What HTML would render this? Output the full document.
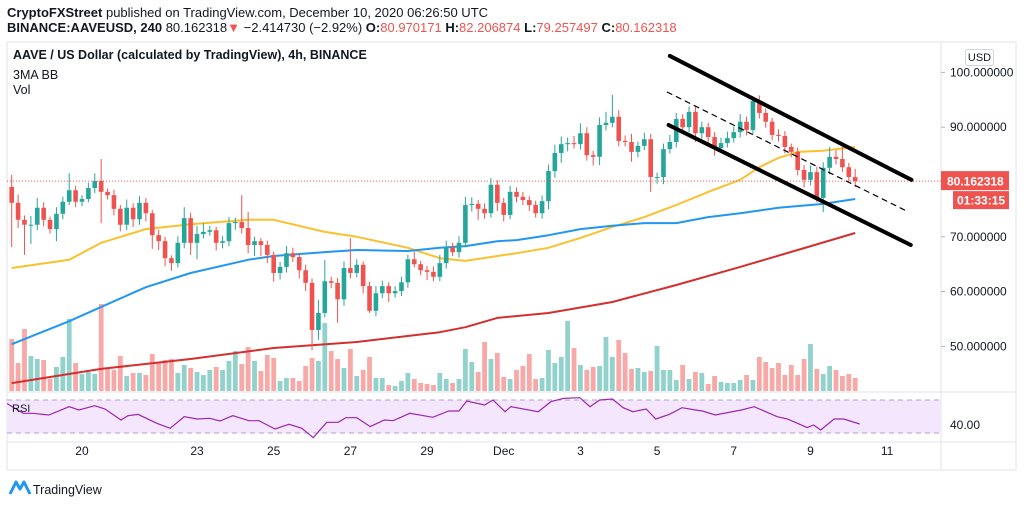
<!DOCTYPE html>
<html><head><meta charset="utf-8">
<style>
html,body{margin:0;padding:0;background:#fff;width:1024px;height:505px;overflow:hidden}
svg{display:block;font-family:"Liberation Sans",sans-serif}
</style></head>
<body>
<svg id="c" width="1024" height="505" viewBox="0 0 1024 505" xmlns="http://www.w3.org/2000/svg">
  <defs><clipPath id="pane"><rect x="7" y="42" width="934" height="400"/></clipPath></defs>
  <text x="7" y="17" font-size="13" fill="#131722"><tspan font-weight="bold">CryptoFXStreet</tspan> published on TradingView.com, December 10, 2020 06:26:50 UTC</text>
  <text x="7" y="32" font-size="13" fill="#131722"><tspan font-weight="bold">BINANCE:AAVEUSD, 240</tspan> 80.162318<tspan fill="#ef5350">▼</tspan> −2.414730 (−2.92%) <tspan font-weight="bold">O:</tspan><tspan fill="#ef5350">80.970171</tspan> <tspan font-weight="bold">H:</tspan><tspan fill="#ef5350">82.206874</tspan> <tspan font-weight="bold">L:</tspan><tspan fill="#ef5350">79.257497</tspan> <tspan font-weight="bold">C:</tspan><tspan fill="#ef5350">80.162318</tspan></text>
  <rect x="7" y="42" width="1009" height="428" fill="none" stroke="#e0e3eb"/>
  <line x1="941" y1="42" x2="941" y2="470" stroke="#e0e3eb"/>
  <line x1="7" y1="392" x2="1016" y2="392" stroke="#e0e3eb"/>
  <line x1="7" y1="442" x2="1016" y2="442" stroke="#e0e3eb"/>
  <g id="rsiPane" clip-path="url(#pane)"></g>
  <g id="volG" clip-path="url(#pane)"></g>
  <g id="maG" clip-path="url(#pane)"></g>
  <g id="candG" clip-path="url(#pane)"></g>
  <g id="drawG" clip-path="url(#pane)"></g>
  <g id="axisG"></g>
  <text x="13" y="59" font-size="12.5" font-weight="bold" fill="#131722">AAVE / US Dollar (calculated by TradingView), 4h, BINANCE</text>
  <text x="13" y="79" font-size="12.5" fill="#131722">3MA BB</text>
  <text x="13" y="94" font-size="12.5" fill="#131722">Vol</text>
  <text x="12" y="412" font-size="11" fill="#131722">RSI</text>
  <rect x="965.5" y="49.5" width="28" height="16" rx="2" fill="#fff" stroke="#d1d4dc"/>
  <text x="979.5" y="61" font-size="11" fill="#131722" text-anchor="middle">USD</text>
  <g>
    <path d="M10 494 L16 482 L20 489 L24 482 L30 494" fill="none" stroke="#2196f3" stroke-width="3" stroke-linejoin="round"/>
    <text x="33" y="494" font-size="12.5" fill="#131722">TradingView</text>
  </g>
</svg>
<script>
const closes=[76.2,73.1,72.2,72.2,75.3,73.1,71.4,74.2,76.4,78.5,
76.4,76.9,78.9,80.2,78.2,77.6,75.1,72.2,75.3,73.2,
76.2,74.3,70.3,69.2,66.1,65.2,68.9,73.4,68.9,70.5,
70.9,71.2,68.9,69.2,72.5,72.7,71.6,68.5,69.2,68.5,
66.7,63.4,64.5,67.0,66.3,63.9,61.6,53.0,56.1,61.9,
61.6,58.6,64.3,63.4,64.9,61.0,56.5,59.7,61.0,59.7,
60.1,61.7,65.9,65.0,63.9,63.6,62.7,65.2,68.1,67.2,
68.9,75.8,76.0,75.1,74.3,79.5,76.2,74.0,78.2,77.3,
76.7,75.8,74.3,76.5,82.0,85.3,86.9,87.1,86.9,88.9,
84.9,84.6,90.4,90.8,91.9,87.5,87.3,85.5,86.6,87.8,
80.9,80.9,86.0,87.3,91.5,90.0,92.8,88.9,90.0,88.2,
86.2,87.1,88.0,89.1,91.0,89.5,94.8,92.6,91.0,88.6,
88.4,86.4,85.5,82.2,80.4,81.8,77.1,82.6,84.6,84.2,
82.7,80.9,80.16];
const firstOpen=79.1;
const wickUp=[2.2,1.5,0.8,1.6,1.8,1.0,0.6,1.2,0.9,3.1,
0.8,0.7,1.0,1.4,4.0,0.6,1.0,0.7,1.5,0.8,
1.2,0.9,0.6,1.0,0.8,0.5,1.2,2.0,1.0,1.5,
1.6,0.8,0.6,1.0,1.1,0.8,4.9,2.9,0.8,0.6,
0.8,0.6,0.9,1.3,1.0,0.6,1.0,0.8,2.4,3.9,
0.8,0.9,1.2,5.5,1.0,0.6,0.8,1.3,1.0,0.7,
0.9,1.0,0.8,1.4,0.6,0.8,1.0,1.5,1.2,0.8,
1.2,1.5,1.2,0.7,1.0,1.2,0.8,0.9,1.1,0.8,
0.9,0.7,0.8,1.0,1.2,1.5,1.4,1.0,1.3,1.8,
1.1,0.8,1.4,2.0,4.0,1.2,1.0,1.5,0.8,1.2,
1.0,0.8,1.0,1.3,1.1,0.9,1.0,1.1,1.0,0.8,
0.9,1.0,1.2,1.0,1.4,0.9,0.7,1.0,0.8,0.7,
1.0,0.9,0.6,0.8,0.9,1.2,1.0,1.0,1.8,1.2,
2.2,0.8,1.5];
const wickDn=[8.1,1.5,5.5,3.5,1.0,1.2,0.8,2.2,1.0,0.6,
1.0,0.8,0.6,0.9,5.7,0.8,1.2,1.2,1.0,1.4,
1.0,1.5,2.5,1.6,1.5,1.4,0.8,1.0,2.2,3.0,
0.8,0.7,1.4,1.0,0.9,1.2,1.0,1.5,2.0,2.0,
1.5,1.6,1.2,1.0,0.9,1.5,1.5,3.7,1.8,0.8,
1.0,4.3,1.2,1.0,0.8,1.3,0.4,1.0,0.9,1.6,
0.8,0.9,1.0,0.6,0.9,1.5,0.8,0.8,1.0,0.7,
1.0,0.8,1.2,2.0,1.0,0.8,1.5,1.2,0.8,1.0,
0.9,1.1,0.8,1.0,1.5,1.2,1.8,1.3,0.8,1.0,
1.0,1.6,1.5,1.0,0.8,1.0,0.8,1.8,1.0,0.8,
2.7,1.2,1.3,0.8,1.0,1.2,0.9,1.6,1.0,1.0,
1.4,0.9,0.8,0.8,1.0,1.0,0.8,1.0,1.1,1.0,
1.0,1.2,1.0,1.0,1.4,1.0,0.8,2.6,1.2,1.0,
0.9,1.0,1.1];
const volumes=[52,28,62,35,32,31,12,24,34,72,
28,17,19,17,87,22,21,35,15,18,
18,16,37,28,31,32,18,26,23,19,
16,21,24,21,30,40,27,44,30,20,
36,33,10,13,13,10,25,33,30,68,
40,32,23,42,15,21,34,13,13,6,
5,10,18,12,8,7,6,18,12,8,
12,42,29,19,49,32,38,14,12,21,
25,37,12,13,41,28,34,70,43,26,
21,24,25,54,34,51,38,22,23,19,
20,45,21,21,11,26,12,19,18,7,
15,9,8,8,11,16,11,34,29,23,
28,16,26,16,32,47,22,17,25,21,
15,17,13];
const maFastIdx=[1,10,15,22,29,38,42,50,55,63,68,72,77,80,85,90,95,100,105,110,115,118,121,124,128,133];
const maFastVal=[64.3,65.8,68.9,71.4,72.3,73.1,73.1,70.9,70.0,68.0,66.1,65.6,66.5,67.0,68.0,69.8,71.8,73.6,75.8,78.2,80.4,82.7,84.4,85.5,85.7,86.4];
const maMidIdx=[1,10,15,22,29,38,42,50,55,63,68,72,77,80,85,90,95,100,105,110,115,121,128,133];
const maMidVal=[50.4,54.6,57.2,60.8,63.4,65.8,66.5,67.2,67.6,67.4,68.0,68.3,69.2,69.4,70.3,71.4,72.0,72.5,72.5,73.6,74.3,75.3,76.0,76.9];
const maSlowIdx=[1,15,29,42,55,68,72,77,85,95,105,115,124,133];
const maSlowVal=[43.3,45.9,47.7,49.7,50.8,52.6,53.5,55.2,56.1,58.1,61.2,64.5,67.6,70.7];
const rsiIdx=[0.2,2.8,4.3,6.8,10,11.5,14,15.6,18.1,19.2,20.8,23.7,25.8,28,30,32,33.6,35.6,38.1,39.7,42.2,44.4,46.4,48.2,50.3,52.1,53.3,55,57.1,59.3,60.7,63.3,66.9,69.4,71,72.2,75,76.3,78.2,79.1,83.4,85.4,87.4,89.9,91.5,93,95,96.7,98.2,100.3,101.8,103.9,105.9,108,109.1,111.1,115.2,117.2,120.8,122.4,125.5,126.5,127.6,129.7,131.2,133.7];
const rsiVal=[66.0,53.9,53.9,51.8,61.9,57.9,63.1,59.1,45.8,51.0,52.6,41.8,35.7,49.8,47.0,47.8,44.5,51.0,44.9,44.9,34.8,40.5,35.7,24.3,43.0,43.0,48.6,48.6,37.7,45.8,44.9,53.9,49.0,56.7,56.7,68.8,63.9,70.0,55.8,61.9,55.8,68.0,72.0,72.8,61.9,70.0,71.2,60.7,55.8,59.1,47.0,52.6,60.7,57.9,56.7,51.8,57.9,61.9,49.8,47.0,36.5,39.7,33.6,47.0,47.0,40.9];
const priceTicks=[100,90,70,60,50];
const dateLabels=['18','20','23','25','27','29','Dec','3','5','7','9','11'];
const dateOffsets=[-2,0,3,5,7,9,11,13,15,17,19,21];
const channelUpper=[[104,103.0],[141.8,80.4]];
const channelLower=[[103.8,90.4],[141.7,68.5]];
const channelMid=[[103.6,96.4],[141.4,74.5]];
const lastPrice=80.162318;

const NS='http://www.w3.org/2000/svg';
const X=i=>11.7+6.39*(i-1);
const Y=p=>182-(p-80)*5.48;
const VY=v=>391-v;
const RY=v=>433-(v-30)*33/40;
const DX=d=>X(12+6*d);
function mk(tag,attrs,parent){const e=document.createElementNS(NS,tag);for(const k in attrs)e.setAttribute(k,attrs[k]);document.getElementById(parent).appendChild(e);return e;}
const GREEN='#26a69a',RED='#ef5350';

let e=mk('rect',{x:7,y:RY(70),width:934,height:RY(30)-RY(70),fill:'#f3e6fd'},'rsiPane');


[70,30].forEach(v=>{const l=mk('line',{x1:7,x2:941,y1:RY(v),y2:RY(v),stroke:'#b39ddb','stroke-dasharray':'5,4'},'rsiPane');

});
let rp=rsiIdx.map((k,j)=>X(k).toFixed(1)+','+RY(rsiVal[j]).toFixed(1)).join(' ');
e=mk('polyline',{points:rp,fill:'none',stroke:'#9c27b0','stroke-width':1.2},'rsiPane');



let prev=firstOpen;
closes.forEach((c,j)=>{
  const i=j+1,o=prev;prev=c;
  const up=c>=o,col=up?GREEN:RED,x=X(i);
  const hi=Math.max(o,c)+wickUp[j],lo=Math.min(o,c)-wickDn[j];
  const v=mk('rect',{x:x-2.4,y:VY(volumes[j]),width:4.8,height:volumes[j],fill:col,'fill-opacity':0.5},'volG');
  
  
  const w=mk('line',{x1:x,x2:x,y1:Y(hi),y2:Y(lo),stroke:col,'stroke-width':1},'candG');
  
  
  const t=Y(Math.max(o,c)),h=Math.max(1,Math.abs(Y(o)-Y(c)));
  const b=mk('rect',{x:x-2.3,y:t,width:4.6,height:h,fill:col},'candG');
  
  
});

[[maFastIdx,maFastVal,'#fbc02d','ma-fast-line'],[maMidIdx,maMidVal,'#2196f3','ma-mid-line'],[maSlowIdx,maSlowVal,'#d32f2f','ma-slow-line']].forEach(([ix,vv,col,nm])=>{
  const pts=ix.map((k,j)=>X(k).toFixed(1)+','+Y(vv[j]).toFixed(1)).join(' ');
  const l=mk('polyline',{points:pts,fill:'none',stroke:col,'stroke-width':2,'stroke-linejoin':'round'},'maG');
  
  
});

e=mk('line',{x1:7,x2:941,y1:Y(lastPrice),y2:Y(lastPrice),stroke:RED,'stroke-dasharray':'1,2','stroke-width':1},'drawG');



[[channelUpper,'channel-upper-line',4,null],[channelLower,'channel-lower-line',4,null],[channelMid,'channel-mid-line',1.2,'5,5']].forEach(([pts,nm,sw,da])=>{
  const a={x1:X(pts[0][0]),y1:Y(pts[0][1]),x2:X(pts[1][0]),y2:Y(pts[1][1]),stroke:'#000','stroke-width':sw,'stroke-linecap':'round'};
  if(da)a['stroke-dasharray']=da;
  const l=mk('line',a,'drawG');
  
  
});

priceTicks.forEach(p=>{
  const tk=mk('line',{x1:941,x2:945,y1:Y(p),y2:Y(p),stroke:'#b2b5be'},'axisG');
  
  
  const t=mk('text',{x:950,y:Y(p)+4,'font-size':12,fill:'#131722'},'axisG');
  t.textContent=p.toFixed(6);
  
  
});
e=mk('text',{x:950,y:RY(40)+4,'font-size':12,fill:'#131722'},'axisG');
e.textContent='40.00';


e=mk('rect',{x:941,y:Y(lastPrice)-10,width:68,height:19,fill:RED},'axisG');


e=mk('text',{x:947,y:Y(lastPrice)+4.5,'font-size':12,'font-weight':'bold',fill:'#fff'},'axisG');
e.textContent=lastPrice.toFixed(6);


e=mk('rect',{x:953,y:Y(lastPrice)+10,width:56,height:18,fill:RED},'axisG');


e=mk('text',{x:957,y:Y(lastPrice)+23.5,'font-size':12,'font-weight':'bold',fill:'#fff'},'axisG');
e.textContent='01:33:15';



dateLabels.forEach((lb,j)=>{
  const x=DX(dateOffsets[j]);
  if(x<0)return;
  const t=mk('text',{x:x,y:455,'font-size':12,fill:'#131722','text-anchor':'middle'},'axisG');
  t.textContent=lb;
  if(x<12){t.setAttribute('clip-path','url(#pane)');}
  
  
});
</script>
</body></html>
